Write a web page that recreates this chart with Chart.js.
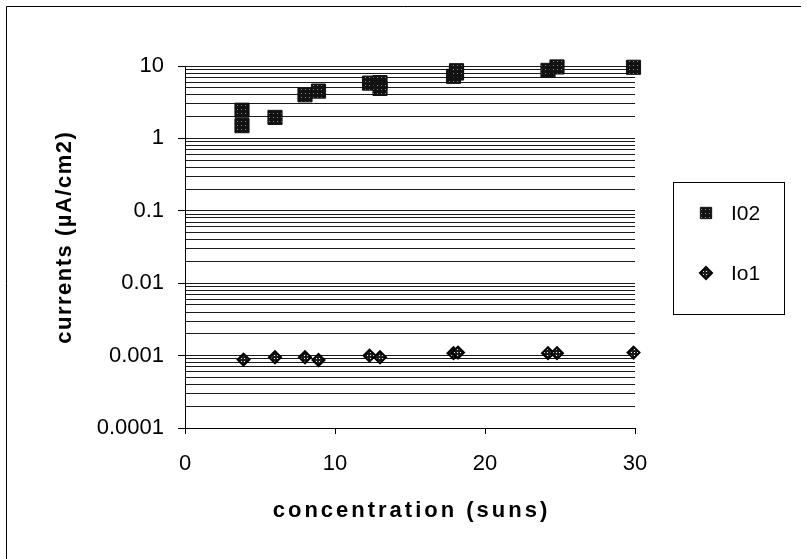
<!DOCTYPE html>
<html>
<head>
<meta charset="utf-8">
<script src="https://cdn.jsdelivr.net/npm/chart.js@4.4.1/dist/chart.umd.min.js"></script>
<style>
  html, body { margin: 0; padding: 0; background: #fff; }
  canvas { display: block; }
</style>
</head>
<body>
<canvas id="chart" width="807" height="559"></canvas>
<script>
// data
const i02Conc = [3.8, 3.8, 6.0, 8.0, 8.9, 12.3, 13.0, 13.0, 17.9, 18.1, 18.1, 24.2, 24.8, 29.9];
const i02Values = [2.45, 1.5, 1.95, 4.0, 4.5, 5.8, 5.9, 4.9, 7.2, 8.0, 8.6, 8.7, 9.7, 9.6];
const io1Conc = [3.9, 6.0, 8.0, 8.9, 12.3, 13.0, 17.9, 18.2, 24.2, 24.8, 29.9];
const io1Values = [0.00088, 0.00095, 0.00095, 0.00087, 0.001, 0.00095, 0.00108, 0.0011, 0.00108, 0.00108, 0.0011];

const xTicks = [0, 10, 20, 30];
const yDecades = [0.0001, 0.001, 0.01, 0.1, 1, 10];
const yMinorSteps = [1, 2, 3, 4, 5, 6, 7, 8, 9];
const legendLabels = ['I02', 'Io1'];
const xTitle = 'concentration (suns)';
const yTitle = 'currents (µA/cm2)';

const fontFamily = "'Liberation Sans', Arial, sans-serif";

// dotted fills like the old print
function makePattern(bg, dot, size, dotSize) {
    const c = document.createElement('canvas');
    c.width = size;
    c.height = size;
    const g = c.getContext('2d');
    g.fillStyle = bg;
    g.fillRect(0, 0, size, size);
    g.fillStyle = dot;
    g.fillRect(1, 1, dotSize, dotSize);
    return document.getElementById('chart').getContext('2d').createPattern(c, 'repeat');
}
const squareFill = makePattern('#121212', '#8a8a8a', 4, 1);
const diamondFill = makePattern('#1a1a1a', '#f4f4f4', 3, 1);

// y ticks: every 1..9 step of each decade
const yTickValues = [];
yDecades.forEach(d => {
    if (d === 10) { yTickValues.push(10); return; }
    yMinorSteps.forEach(s => yTickValues.push(+(d * s).toPrecision(6)));
});
const isDecade = v => yDecades.some(d => Math.abs(v - d) < d * 1e-6);

// frame, legend box and spaced-out axis titles
const extras = {
    id: 'extras',
    afterDraw(chart) {
        const ctx = chart.ctx;
        const area = chart.chartArea;
        ctx.save();
        ctx.strokeStyle = '#000';
        ctx.lineWidth = 1;
        ctx.beginPath();
        ctx.moveTo(6.5, 600);
        ctx.lineTo(6.5, 6.5);
        ctx.lineTo(801, 6.5);
        ctx.stroke();
        ctx.strokeRect(673.5, 182.5, 111, 132);

        const rows = [213, 273];
        chart.data.datasets.forEach((ds, i) => {
            const style = {
                pointStyle: ds.pointStyle,
                radius: i === 0 ? 8 : 6,
                borderWidth: ds.pointBorderWidth
            };
            ctx.fillStyle = ds.pointBackgroundColor;
            ctx.strokeStyle = ds.pointBorderColor;
            ctx.lineWidth = ds.pointBorderWidth;
            Chart.helpers.drawPoint(ctx, style, 706, rows[i]);
            ctx.fillStyle = '#000';
            ctx.font = `21px ${fontFamily}`;
            ctx.textBaseline = 'middle';
            ctx.textAlign = 'left';
            ctx.fillText(legendLabels[i], 731, rows[i] + 1);
        });

        ctx.fillStyle = '#000';
        ctx.textAlign = 'center';
        ctx.textBaseline = 'middle';
        ctx.font = `bold 22px ${fontFamily}`;
        ctx.letterSpacing = '3px';
        ctx.fillText(xTitle, (area.left + area.right) / 2 + 1.5, 511);

        ctx.translate(65, 238);
        ctx.rotate(-Math.PI / 2);
        ctx.letterSpacing = '1.5px';
        ctx.fillText(yTitle, 0.75, 0);
        ctx.restore();
    }
};

new Chart(document.getElementById('chart'), {
    type: 'scatter',
    data: {
        datasets: [
            {
                label: legendLabels[0],
                data: i02Conc.map((x, i) => ({ x, y: i02Values[i] })),
                pointStyle: 'rect',
                pointRadius: 10,
                pointBackgroundColor: squareFill,
                pointBorderColor: '#111',
                pointBorderWidth: 1,
                clip: false
            },
            {
                label: legendLabels[1],
                data: io1Conc.map((x, i) => ({ x, y: io1Values[i] })),
                pointStyle: 'rectRot',
                pointRadius: 6,
                pointBackgroundColor: diamondFill,
                pointBorderColor: '#000',
                pointBorderWidth: 2,
                clip: false
            }
        ]
    },
    options: {
        responsive: false,
        animation: false,
        layout: { padding: { left: 0, top: 66, right: 172, bottom: 0 } },
        plugins: {
            legend: { display: false },
            tooltip: { enabled: false }
        },
        scales: {
            x: {
                type: 'linear',
                min: 0,
                max: 30,
                afterBuildTicks: scale => { scale.ticks = xTicks.map(v => ({ value: v })); },
                afterFit: scale => { scale.height = 559 - 428; },
                border: { display: true, color: '#000', width: 1 },
                grid: {
                    drawOnChartArea: false,
                    drawTicks: true,
                    tickLength: 6,
                    tickColor: '#000'
                },
                ticks: {
                    color: '#000',
                    padding: 17,
                    maxRotation: 0,
                    font: { family: fontFamily, size: 22 }
                },
                title: { display: false }
            },
            y: {
                type: 'logarithmic',
                min: 0.0001,
                max: 10,
                afterBuildTicks: scale => { scale.ticks = yTickValues.map(v => ({ value: v, major: isDecade(v) })); },
                afterFit: scale => { scale.width = 185; },
                border: { display: true, color: '#000', width: 1 },
                grid: {
                    color: '#1a1a1a',
                    lineWidth: 1,
                    drawTicks: true,
                    tickLength: 7,
                    tickColor: ctx => (ctx.tick && isDecade(ctx.tick.value)) ? '#000' : 'rgba(0,0,0,0)'
                },
                ticks: {
                    autoSkip: false,
                    color: '#000',
                    padding: 14,
                    font: { family: fontFamily, size: 22 },
                    callback: v => isDecade(v) ? String(v) : ''
                },
                title: { display: false }
            }
        }
    },
    plugins: [extras]
});
</script>
</body>
</html>
